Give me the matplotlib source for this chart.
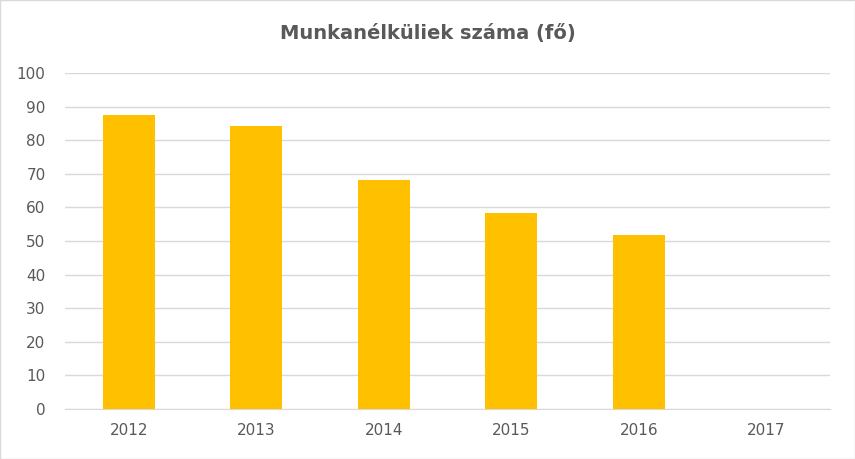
import matplotlib.pyplot as plt

years = ['2012', '2013', '2014', '2015', '2016', '2017']
values = [87.5, 84.2, 68.2, 58.3, 51.8, 0]

fig = plt.figure(figsize=(8.55, 4.59), dpi=100)
ax = fig.add_axes([65/855, 1-409/459, 765/855, 336/459])
ax.bar(range(len(years)), values, width=0.41, color='#FFC000', zorder=3)
ax.set_xlim(-0.5, len(years)-0.5)
ax.set_ylim(0, 100)
ax.set_yticks(range(0, 101, 10))
ax.set_xticks(range(len(years)))
ax.set_xticklabels(years)
ax.grid(axis='y', color='#D9D9D9', linewidth=1, zorder=0)
for s in ['top', 'right', 'left']:
    ax.spines[s].set_visible(False)
ax.spines['bottom'].set_color('#D9D9D9')
ax.tick_params(length=0, labelsize=11, colors='#595959', pad=10)
ax.tick_params(axis='y', pad=14)
fig.text(0.5, 1-33/459, 'Munkanélküliek száma (fő)', ha='center', va='center',
         fontsize=14, fontweight='bold', color='#595959')
fig.patches.append(plt.Rectangle((0, 0), 1, 1, transform=fig.transFigure,
                                 fill=False, edgecolor='#D9D9D9', linewidth=1))
fig.savefig('out.png')
